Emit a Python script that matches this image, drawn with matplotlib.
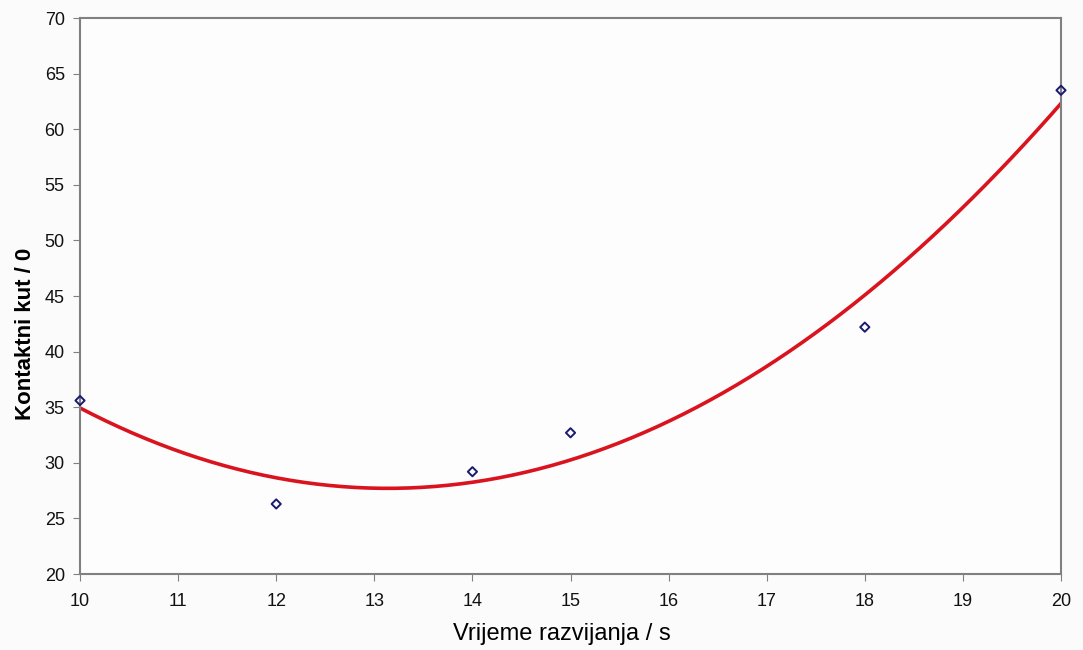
import numpy as np
import matplotlib
matplotlib.use("Agg")
import matplotlib.pyplot as plt

plt.rcParams['font.family'] = ['Liberation Sans', 'DejaVu Sans']

# development time (s) and measured contact angle
vrijeme = np.array([10, 12, 14, 15, 18, 20])
kut = np.array([35.6, 26.3, 29.2, 32.7, 42.2, 63.5])

# second order polynomial trendline
koef = np.polyfit(vrijeme, kut, 2)
xs = np.linspace(vrijeme.min(), vrijeme.max(), 300)
ys = np.polyval(koef, xs)

fig = plt.figure(figsize=(10.83, 6.5), dpi=100, facecolor='#fbfbfb')
ax = fig.add_axes([0.0739, 0.1169, 0.9058, 0.8554])
ax.set_facecolor('#fdfdfd')

ax.plot(xs, ys, color='#d9141e', lw=2.6, zorder=2)
ax.scatter(vrijeme, kut, marker='D', s=22, facecolors='none',
           edgecolors='#1a1a70', linewidths=1.4, zorder=3, clip_on=False)

ax.set_xlim(10, 20)
ax.set_ylim(20, 70)
ax.set_xticks(np.arange(10, 21, 1))
ax.set_yticks(np.arange(20, 71, 5))
for s in ax.spines.values():
    s.set_color('#808080')
    s.set_linewidth(1.5)
ax.tick_params(direction='out', length=5, color='#808080', labelsize=13,
               labelcolor='#111111')
ax.tick_params(axis='x', pad=9)
ax.tick_params(axis='y', pad=6)

ax.set_xlabel('Vrijeme razvijanja / s', fontsize=17)
ax.set_ylabel('Kontaktni kut / 0', fontsize=16, fontweight='bold')
ax.xaxis.set_label_coords(0.491, -0.088)
ax.yaxis.set_label_coords(-0.045, 0.432)

fig.savefig('out.png', dpi=100, facecolor=fig.get_facecolor())
